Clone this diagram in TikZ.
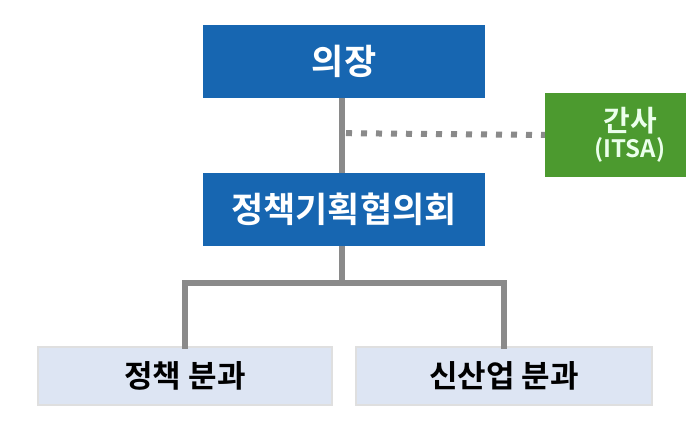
\documentclass[tikz,border=0pt]{standalone}
\usepackage{fontspec}
\newfontfamily\kr{Noto Sans CJK KR}[BoldFont={Noto Sans CJK KR Bold}]
\usepackage{xcolor}
\usetikzlibrary{calc}
\definecolor{chairblue}{HTML}{1766B1}
\definecolor{secgreen}{HTML}{4C9A2F}
\definecolor{divfill}{HTML}{DDE5F3}
\definecolor{linegray}{HTML}{8A8A8A}

\begin{document}
\begin{tikzpicture}[x=1pt, y=1pt,
  bluebox/.style={fill=chairblue, text=white, minimum width=282pt, minimum height=73pt, inner sep=0pt, font=\kr\bfseries\fontsize{35}{38}\selectfont},
  greenbox/.style={fill=secgreen, text=green!8!white, minimum width=170pt, minimum height=84pt, inner sep=0pt, align=center},
  divbox/.style={fill=divfill, draw=gray!25, line width=1.2pt, minimum height=58pt, inner sep=0pt, font=\kr\bfseries\fontsize{31}{34}\selectfont},
  trunk/.style={linegray, line width=6pt},
  dotline/.style={linegray, line width=6pt, dash pattern=on 6pt off 9pt}]
\clip (0,0) rectangle (686,440);
\fill[white] (0,0) rectangle (686,440);
\node[bluebox] (chair) at (344,378.5) {의장};
\node[bluebox] (council) at (344,230.5) {정책기획협의회};
\node[greenbox] (sec) at (630,305) {{\kr\bfseries\fontsize{29}{30}\selectfont 간사}\\[3pt]{\kr\bfseries\fontsize{24}{26}\selectfont (ITSA)}};
\node[divbox, minimum width=294pt] (policy) at (185,64) {정책 분과};
\node[divbox, minimum width=296pt] (industry) at (504,64) {신산업 분과};
\coordinate (split) at ($(council.south)+(-2,-37)$);
\draw[trunk] ($(chair.south)+(-2,0)$) -- ($(council.north)+(-2,0)$);
\draw[dotline] ($(chair.south)+(2,-35)$) -- (sec.west |- 0,305);
\draw[trunk] ($(council.south)+(-2,0)$) -- (split);
\draw[trunk, line cap=rect] (policy.north) |- (split) -| (industry.north);
\end{tikzpicture}
\end{document}
